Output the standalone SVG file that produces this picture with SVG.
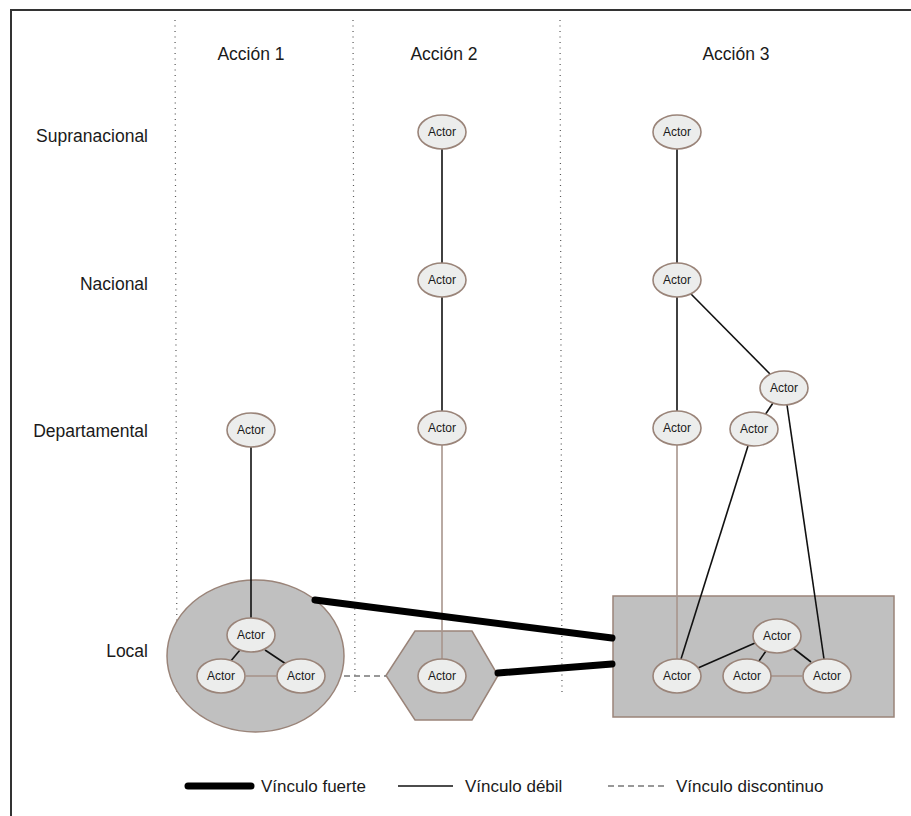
<svg xmlns="http://www.w3.org/2000/svg" width="911" height="816" viewBox="0 0 911 816">
<style>
text{font-family:"Liberation Sans",Arial,sans-serif;fill:#1a1a1a}
.lbl{font-size:17.5px}
.leg{font-size:17px}
.hdr{font-size:17.5px;text-anchor:middle}
.act ellipse{fill:#ecedec;stroke:#9a8479;stroke-width:1.6}
.act text{font-size:12px;text-anchor:middle}
.shape{fill:#c0c0c0;stroke:#9a8479;stroke-width:1.5}
.dot{stroke:#555;stroke-width:1.2;stroke-dasharray:1 4.5;fill:none}
.k{stroke:#111;stroke-width:1.6;fill:none}
.b{stroke:#a8958c;stroke-width:1.6;fill:none}
.s{stroke:#000;stroke-width:7;stroke-linecap:round;fill:none}
.d{stroke:#777;stroke-width:1.4;stroke-dasharray:6 4;fill:none}
</style>
<g id="frame" fill="none" stroke="#333" stroke-width="2">
<path d="M11 816V10H911"/>
</g>
<g id="dividers">
<line class="dot" x1="175" y1="20" x2="177" y2="696"/>
<line class="dot" x1="353" y1="20" x2="355" y2="696"/>
<line class="dot" x1="560" y1="20" x2="562" y2="696"/>
</g>
<g id="headers">
<text class="hdr" x="251" y="60">Acción 1</text>
<text class="hdr" x="444" y="60">Acción 2</text>
<text class="hdr" x="736" y="60">Acción 3</text>
</g>
<g id="levels" text-anchor="end">
<text class="lbl" x="148" y="142">Supranacional</text>
<text class="lbl" x="148" y="290">Nacional</text>
<text class="lbl" x="148" y="437">Departamental</text>
<text class="lbl" x="148" y="657">Local</text>
</g>
<g id="groups">
<ellipse id="grupo1" class="shape" cx="255.5" cy="656" rx="88.5" ry="76"/>
<polygon id="grupo2" class="shape" points="415,631 472,631 498,675.5 472,720 415,720 386,675.5"/>
<rect id="grupo3" class="shape" x="613" y="596" width="281" height="121"/>
</g>
<g id="connectors">
<line class="k" x1="251" y1="447" x2="251" y2="619"/>
<line class="k" x1="240" y1="650" x2="230" y2="662"/>
<line class="k" x1="265" y1="650" x2="286" y2="664"/>
<line class="b" x1="246" y1="676" x2="276" y2="676"/>
<line class="k" x1="442" y1="149" x2="442" y2="263"/>
<line class="k" x1="442" y1="297" x2="442" y2="411"/>
<line class="b" x1="442" y1="445" x2="442" y2="659"/>
<line class="k" x1="677" y1="149" x2="677" y2="263"/>
<line class="k" x1="677" y1="297" x2="677" y2="411"/>
<line class="k" x1="691" y1="294" x2="770" y2="374"/>
<line class="k" x1="773" y1="403" x2="765" y2="415"/>
<line class="b" x1="677" y1="445" x2="677" y2="659"/>
<line class="k" x1="748" y1="446" x2="681" y2="659"/>
<line class="k" x1="787" y1="405" x2="824" y2="659"/>
<line class="k" x1="698" y1="668" x2="755" y2="643"/>
<line class="k" x1="766" y1="651" x2="759" y2="661"/>
<line class="k" x1="793" y1="648" x2="811" y2="662"/>
<line class="b" x1="771" y1="676" x2="802" y2="676"/>
<line class="d" x1="344" y1="676" x2="386" y2="676"/>
<line class="s" x1="315" y1="600" x2="612" y2="638"/>
<line class="s" x1="498" y1="673" x2="612" y2="664"/>
</g>
<g id="a1-dep" class="act"><ellipse cx="251" cy="430" rx="24" ry="17"/><text x="251" y="434">Actor</text></g>
<g id="a1-loc1" class="act"><ellipse cx="251" cy="635" rx="24" ry="17"/><text x="251" y="639">Actor</text></g>
<g id="a1-loc2" class="act"><ellipse cx="221" cy="676" rx="24" ry="17"/><text x="221" y="680">Actor</text></g>
<g id="a1-loc3" class="act"><ellipse cx="301" cy="676" rx="24" ry="17"/><text x="301" y="680">Actor</text></g>
<g id="a2-sup" class="act"><ellipse cx="442" cy="132" rx="24" ry="17"/><text x="442" y="136">Actor</text></g>
<g id="a2-nac" class="act"><ellipse cx="442" cy="280" rx="24" ry="17"/><text x="442" y="284">Actor</text></g>
<g id="a2-dep" class="act"><ellipse cx="442" cy="428" rx="24" ry="17"/><text x="442" y="432">Actor</text></g>
<g id="a2-loc" class="act"><ellipse cx="442" cy="676" rx="24" ry="17"/><text x="442" y="680">Actor</text></g>
<g id="a3-sup" class="act"><ellipse cx="677" cy="132" rx="24" ry="17"/><text x="677" y="136">Actor</text></g>
<g id="a3-nac" class="act"><ellipse cx="677" cy="280" rx="24" ry="17"/><text x="677" y="284">Actor</text></g>
<g id="a3-dep1" class="act"><ellipse cx="677" cy="428" rx="24" ry="17"/><text x="677" y="432">Actor</text></g>
<g id="a3-dep2" class="act"><ellipse cx="784" cy="388" rx="24" ry="17"/><text x="784" y="392">Actor</text></g>
<g id="a3-dep3" class="act"><ellipse cx="754" cy="429" rx="24" ry="17"/><text x="754" y="433">Actor</text></g>
<g id="a3-loc1" class="act"><ellipse cx="677" cy="676" rx="24" ry="17"/><text x="677" y="680">Actor</text></g>
<g id="a3-loc2" class="act"><ellipse cx="777" cy="636" rx="24" ry="17"/><text x="777" y="640">Actor</text></g>
<g id="a3-loc3" class="act"><ellipse cx="747" cy="676" rx="24" ry="17"/><text x="747" y="680">Actor</text></g>
<g id="a3-loc4" class="act"><ellipse cx="827" cy="676" rx="24" ry="17"/><text x="827" y="680">Actor</text></g>
<g id="legend">
<line class="s" x1="188" y1="786" x2="251" y2="786"/>
<text class="leg" x="261" y="792">Vínculo fuerte</text>
<line class="k" x1="398" y1="786" x2="453" y2="786" stroke-width="1.2"/>
<text class="leg" x="465" y="792">Vínculo débil</text>
<line class="d" x1="608" y1="786" x2="664" y2="786" stroke="#444" stroke-width="1.1" stroke-dasharray="5 4.5"/>
<text class="leg" x="676" y="792">Vínculo discontinuo</text>
</g>
</svg>
